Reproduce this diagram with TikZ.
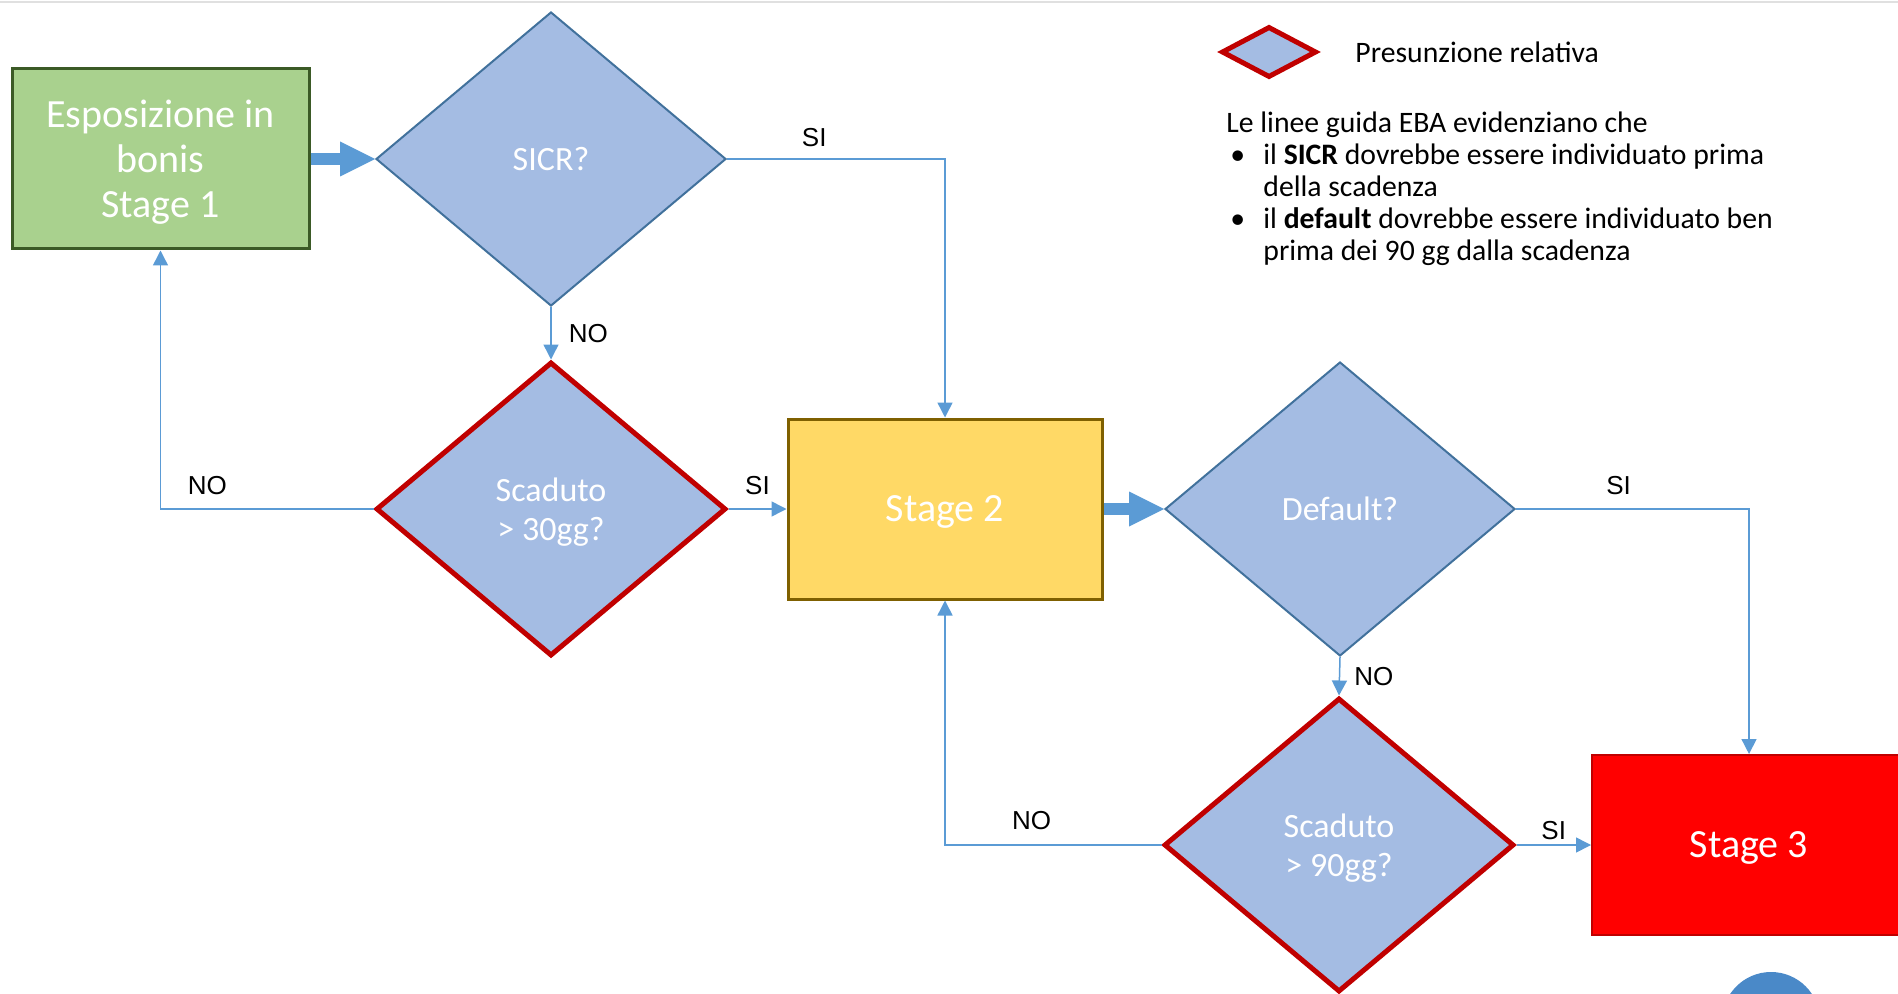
\documentclass[tikz,border=0pt]{standalone}
\usepackage{fontspec}
\setmainfont{Carlito}
\newfontfamily\labfont{Liberation Sans}
\usepackage{xcolor}
\usetikzlibrary{positioning,shapes.geometric,arrows.meta}
\definecolor{verdebox}{HTML}{A9D18E}
\definecolor{verdebordo}{HTML}{3B5A26}
\definecolor{giallobox}{HTML}{FFD966}
\definecolor{giallobordo}{HTML}{7F6000}
\definecolor{rossobox}{HTML}{FF0000}
\definecolor{rossobordo}{HTML}{C00000}
\definecolor{azzurro}{HTML}{A4BCE3}
\definecolor{bluebordo}{HTML}{41719C}
\definecolor{freccia}{HTML}{5B9BD5}
\definecolor{pallino}{HTML}{4A89C8}
\newcommand{\puntino}{\hspace*{2pt}\makebox[16.5pt][l]{\textbullet}}
\newcommand{\rientro}{\hspace*{18.5pt}}

\begin{document}
\begin{tikzpicture}[
	x=0.5pt, y=-0.5pt,
	box/.style={ % riquadro stage
		draw, line width=1.5pt,
		minimum width=157pt,
		minimum height=90pt,
		inner sep=0pt, text depth=0pt,
		align=center, text=white,
		font=\fontsize{20pt}{22.5pt}\selectfont
	},
	rombo/.style={ % decisione
		diamond, draw=bluebordo, line width=1pt,
		fill=azzurro,
		minimum width=175pt,
		minimum height=147pt,
		inner sep=0pt, text depth=0pt,
		align=center, text=white,
		font=\fontsize{17pt}{19.5pt}\selectfont
	},
	presunto/.style={ % presunzione relativa (bordo rosso)
		rombo, draw=rossobordo, line width=2.5pt
	},
	conn/.style={ % freccia sottile
		-{Triangle[length=7.5pt,width=7.5pt]},
		draw=freccia, line width=0.75pt
	},
	blocco/.style={ % freccia larga
		-{Triangle[length=17.5pt,width=17.5pt,line width=0pt]},
		draw=freccia, line width=6pt
	},
	lab/.style={
		inner sep=1pt,
		font=\labfont\fontsize{13pt}{15pt}\selectfont
	},
	testo/.style={
		inner sep=0pt, align=left,
		font=\fontsize{14.85pt}{16pt}\selectfont
	}
	]
	\useasboundingbox (0,0) rectangle (1898,994);
	\draw[black!12, line width=1pt] (0,2) -- (1898,2);
	
	% ================= NODI =================
	\node[box, fill=verdebox, draw=verdebordo, minimum width=148.5pt] (s1) at (160.5,159) {Esposizione in\\bonis\\Stage 1};
	\node[rombo] (sicr) at (551,159) {SICR?};
	\node[presunto] (sc30) at (551,509) {Scaduto\\> 30gg?};
	\node[box, fill=giallobox, draw=giallobordo] (s2) at (945,509) {Stage 2};
	\node[rombo] (def) at (1340,509) {Default?};
	\node[presunto] (sc90) at (1339,845) {Scaduto\\> 90gg?};
	\node[box, fill=rossobox, draw=rossobordo, line width=1pt] (s3) at (1749,845) {Stage 3};
	
	% ================= FRECCE =================
	\draw[blocco] (s1.east) -- (sicr.west);
	\draw[blocco] (s2.east) -- (def.west);
	
	\draw[conn] (sicr.south) -- node[lab, right=7.5pt] (l1) {NO} (sc30.north);
	\draw[conn] (sicr.east) -| node[lab, above=4.5pt, pos=0.2] (l2) {SI} (s2.north);
	\draw[conn] (sc30.west) -| node[lab, above=5.5pt, pos=0.39] (l3) {NO} (s1.south);
	\draw[conn] (sc30.east) -- node[lab, above=5.5pt] (l4) {SI} (s2.west);
	\draw[conn] (def.east) -| node[lab, above=5.5pt, pos=0.22] (l5) {SI} (s3.north);
	\draw[conn] (def.south) -- node[lab, right=6pt] (l6) {NO} (sc90.north);
	\draw[conn] (sc90.west) -| node[lab, above=6.5pt, pos=0.3] (l7) {NO} (s2.south);
	\draw[conn] (sc90.east) -- node[lab, above=1.5pt] (l8) {SI} (s3.west);
	
	% ================= LEGENDA =================
	\node[presunto, minimum width=47.5pt, minimum height=25.5pt] (leg) at (1269,52) {};
	\node[testo, right=18pt of leg] (legtxt) {Presunzione relativa};
	\node[testo, anchor=north west] (nota) at (1226,111) {Le linee guida EBA evidenziano che\\
		\puntino il \textbf{SICR} dovrebbe essere individuato prima\\
		\rientro della scadenza\\
		\puntino il \textbf{default} dovrebbe essere individuato ben\\
		\rientro prima dei 90 gg dalla scadenza};
	
	% pallino in basso a destra
	\fill[pallino] (1771,1021) circle (24.5pt);
\end{tikzpicture}
\end{document}
